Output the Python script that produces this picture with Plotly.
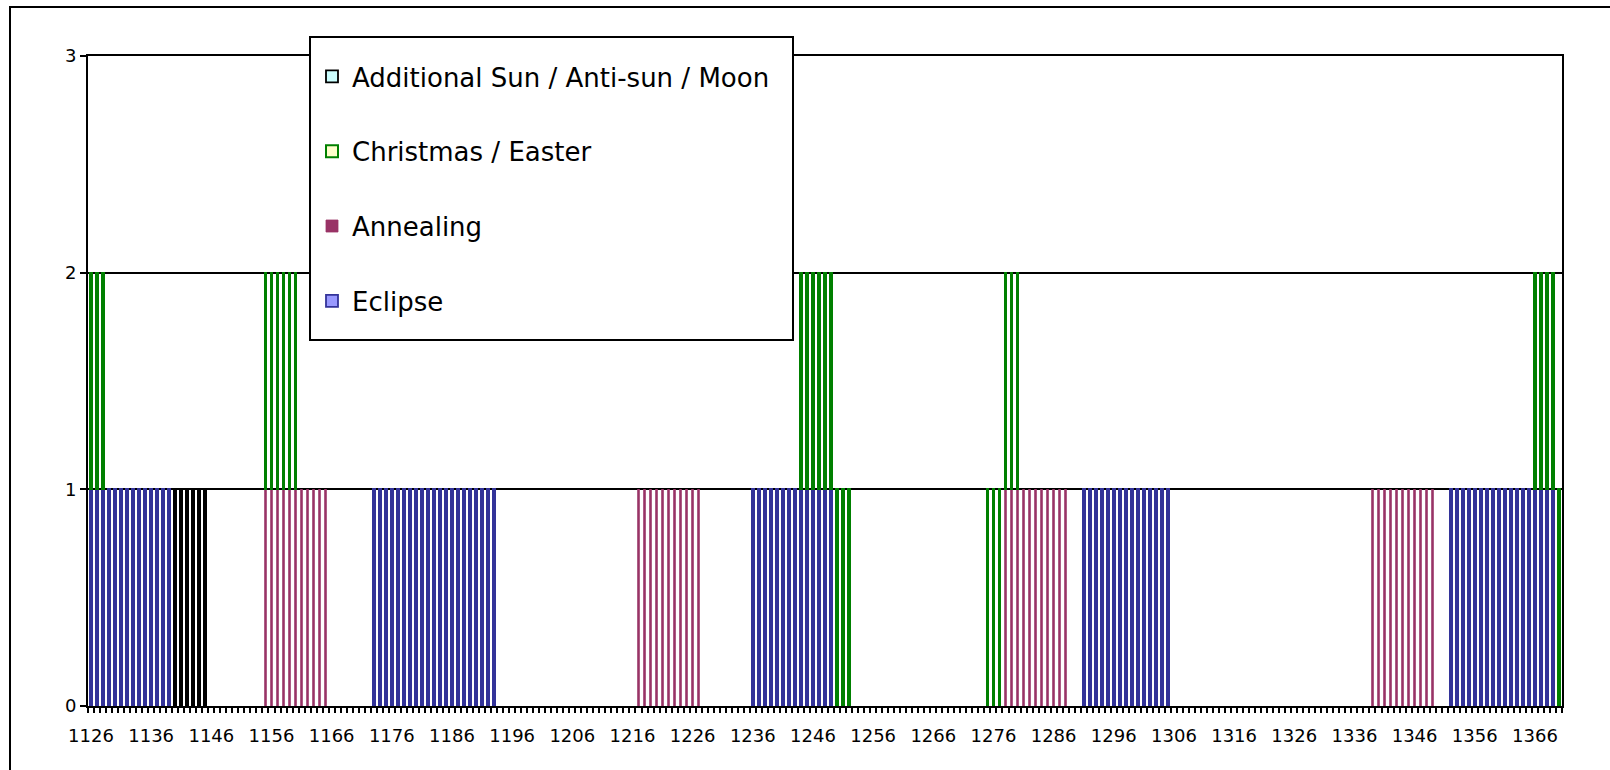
import plotly.graph_objects as go

# ---- data -------------------------------------------------------------
years = list(range(1126, 1371))

tick_years = [1126, 1136, 1146, 1156, 1166, 1176, 1186, 1196, 1206, 1216,
              1226, 1236, 1246, 1256, 1266, 1276, 1286, 1296, 1306, 1316,
              1326, 1336, 1346, 1356, 1366]
tick_labels = [str(y) for y in tick_years]

eclipse_years = [1126, 1127, 1128, 1129, 1130, 1131, 1132, 1133, 1134, 1135, 1136, 1137, 1138, 1139,
                 1173, 1174, 1175, 1176, 1177, 1178, 1179, 1180, 1181, 1182, 1183, 1184, 1185, 1186,
                 1187, 1188, 1189, 1190, 1191, 1192, 1193,
                 1236, 1237, 1238, 1239, 1240, 1241, 1242, 1243, 1244, 1245, 1246, 1247, 1248, 1249,
                 1291, 1292, 1293, 1294, 1295, 1296, 1297, 1298, 1299, 1300, 1301, 1302, 1303, 1304, 1305,
                 1352, 1353, 1354, 1355, 1356, 1357, 1358, 1359, 1360, 1361, 1362, 1363, 1364, 1365,
                 1366, 1367, 1368, 1369]

annealing_years = [1155, 1156, 1157, 1158, 1159, 1160, 1161, 1162, 1163, 1164, 1165,
                   1217, 1218, 1219, 1220, 1221, 1222, 1223, 1224, 1225, 1226, 1227,
                   1278, 1279, 1280, 1281, 1282, 1283, 1284, 1285, 1286, 1287, 1288,
                   1339, 1340, 1341, 1342, 1343, 1344, 1345, 1346, 1347, 1348, 1349]

christmas_years = [1126, 1127, 1128,
                   1155, 1156, 1157, 1158, 1159, 1160,
                   1244, 1245, 1246, 1247, 1248, 1249, 1250, 1251, 1252,
                   1275, 1276, 1277, 1278, 1279, 1280,
                   1366, 1367, 1368, 1369, 1370]

additional_years = [1140, 1141, 1142, 1143, 1144, 1145]

# name, years, fill, outline, bar width, outline width, legend rank
series = [
    ("Eclipse", eclipse_years, "#9999FF", "#333399", 0.32, 1.8, 4),
    ("Annealing", annealing_years, "#993366", "#993366", 0.25, 0.8, 3),
    ("Christmas / Easter", christmas_years, "#FFFFCC", "#008000", 0.30, 2.0, 2),
    ("Additional Sun / Anti-sun / Moon", additional_years, "#CCFFFF", "#000000", 0.32, 1.8, 1),
]

# ---- figure -----------------------------------------------------------
FONT = "DejaVu Sans"
fig = go.Figure()
for name, yrs, fill, line, bw, lw, rank in series:
    vals = [1 if y in yrs else None for y in years]
    fig.add_trace(go.Bar(
        x=years, y=vals, name=name, width=bw, legendgroup=name, legendrank=rank,
        marker=dict(color=fill, line=dict(color=line, width=lw)),
    ))

L, R, T, B = 88, 48, 56, 64
W, H = 1610, 770
pw, ph = W - L - R, H - T - B


def px_x(x):
    return (x - L) / pw


def px_y(y):
    return (H - B - y) / ph


fig.update_layout(
    width=W, height=H,
    margin=dict(l=L, r=R, t=T, b=B),
    barmode="stack",
    plot_bgcolor="white", paper_bgcolor="white",
    font=dict(family=FONT, size=18, color="black"),
    showlegend=True,
    legend=dict(
        x=px_x(312), y=px_y(53), xanchor="left", yanchor="top",
        bgcolor="rgba(0,0,0,0)", borderwidth=0,
        font=dict(family=FONT, size=26, color="black"),
        traceorder="grouped", tracegroupgap=38,
    ),
    xaxis=dict(
        range=[1125.5, 1370.5],
        tickmode="array", tickvals=tick_years, ticktext=tick_labels,
        ticks="outside", ticklen=5, tickcolor="rgba(0,0,0,0)",
        ticklabelstandoff=7,
        minor=dict(tick0=1125.5, dtick=1, ticks="outside", ticklen=5,
                   tickcolor="black", tickwidth=1.5, showgrid=False),
        showgrid=False, zeroline=False,
        showline=True, linecolor="black", linewidth=2, mirror=True,
        tickfont=dict(family=FONT, size=18, color="black"),
    ),
    yaxis=dict(
        range=[0, 3], tickmode="array", tickvals=[0, 1, 2, 3],
        ticks="outside", ticklen=6, tickcolor="black", tickwidth=1.5,
        showgrid=True, gridcolor="black", gridwidth=1.5, zeroline=False,
        showline=True, linecolor="black", linewidth=2, mirror=True,
        tickfont=dict(family=FONT, size=18, color="black"),
    ),
    shapes=[
        dict(type="rect", xref="paper", yref="paper",
             x0=px_x(10), x1=px_x(1640), y0=px_y(800), y1=px_y(7),
             line=dict(color="black", width=2), fillcolor="rgba(0,0,0,0)", layer="below"),
        dict(type="rect", xref="paper", yref="paper",
             x0=px_x(310), x1=px_x(793), y0=px_y(340), y1=px_y(37),
             line=dict(color="black", width=2), fillcolor="white", layer="above"),
    ],
)

fig.write_html("out.html", config={"displayModeBar": False},
               post_script="document.body.style.margin='0px';")
